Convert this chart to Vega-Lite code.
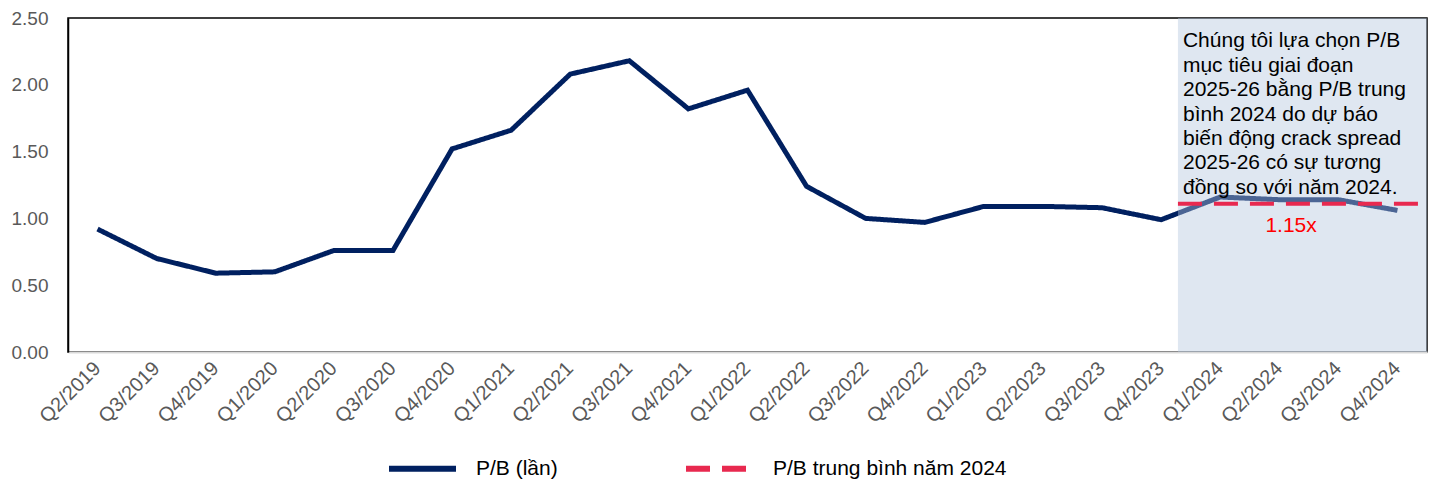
{
  "$schema": "https://vega.github.io/schema/vega-lite/v6.json",
  "autosize": {"type": "none"},
  "width": 1359,
  "height": 334,
  "padding": {"top": 18, "left": 68, "right": 5, "bottom": 129},
  "background": "#ffffff",
  "config": {
    "font": "Liberation Sans",
    "view": {"stroke": "#000000", "strokeWidth": 1.5}
  },
  "datasets": {
    "pb": [
      {"q": "Q2/2019", "v": 0.92, "s": "P/B (lần)"},
      {"q": "Q3/2019", "v": 0.70, "s": "P/B (lần)"},
      {"q": "Q4/2019", "v": 0.59, "s": "P/B (lần)"},
      {"q": "Q1/2020", "v": 0.60, "s": "P/B (lần)"},
      {"q": "Q2/2020", "v": 0.76, "s": "P/B (lần)"},
      {"q": "Q3/2020", "v": 0.76, "s": "P/B (lần)"},
      {"q": "Q4/2020", "v": 1.52, "s": "P/B (lần)"},
      {"q": "Q1/2021", "v": 1.66, "s": "P/B (lần)"},
      {"q": "Q2/2021", "v": 2.08, "s": "P/B (lần)"},
      {"q": "Q3/2021", "v": 2.18, "s": "P/B (lần)"},
      {"q": "Q4/2021", "v": 1.82, "s": "P/B (lần)"},
      {"q": "Q1/2022", "v": 1.96, "s": "P/B (lần)"},
      {"q": "Q2/2022", "v": 1.24, "s": "P/B (lần)"},
      {"q": "Q3/2022", "v": 1.00, "s": "P/B (lần)"},
      {"q": "Q4/2022", "v": 0.97, "s": "P/B (lần)"},
      {"q": "Q1/2023", "v": 1.09, "s": "P/B (lần)"},
      {"q": "Q2/2023", "v": 1.09, "s": "P/B (lần)"},
      {"q": "Q3/2023", "v": 1.08, "s": "P/B (lần)"},
      {"q": "Q4/2023", "v": 0.99, "s": "P/B (lần)"},
      {"q": "Q1/2024", "v": 1.16, "s": "P/B (lần)"},
      {"q": "Q2/2024", "v": 1.14, "s": "P/B (lần)"},
      {"q": "Q3/2024", "v": 1.14, "s": "P/B (lần)"},
      {"q": "Q4/2024", "v": 1.06, "s": "P/B (lần)"}
    ],
    "zone": [{"start": "Q4/2023", "end": "Q4/2024"}],
    "avg": [{"start": "Q4/2023", "end": "Q4/2024", "v": 1.11, "s": "P/B trung bình năm 2024"}],
    "note": [{"q": "Q4/2023", "note": "Chúng tôi lựa chọn P/B\nmục tiêu giai đoạn\n2025-26 bằng P/B trung\nbình 2024 do dự báo\nbiến động crack spread\n2025-26 có sự tương\nđồng so với năm 2024."}],
    "lab": [{"q": "Q2/2024", "label": "1.15x"}]
  },
  "layer": [
    {
      "data": {"name": "pb"},
      "mark": {"type": "line", "strokeWidth": 5, "strokeJoin": "miter"},
      "encoding": {
        "x": {
          "field": "q", "type": "nominal", "sort": null,
          "scale": {"type": "band", "paddingInner": 0, "paddingOuter": 0,
            "domain": ["Q2/2019","Q3/2019","Q4/2019","Q1/2020","Q2/2020","Q3/2020","Q4/2020","Q1/2021","Q2/2021","Q3/2021","Q4/2021","Q1/2022","Q2/2022","Q3/2022","Q4/2022","Q1/2023","Q2/2023","Q3/2023","Q4/2023","Q1/2024","Q2/2024","Q3/2024","Q4/2024"]},
          "axis": {
            "title": null, "ticks": false, "grid": false,
            "domainColor": "#D9D9D9", "domainWidth": 2,
            "labelAngle": -45, "labelAlign": "right", "labelBaseline": "middle",
            "labelFontSize": 20, "labelColor": "#595959", "labelPadding": 13
          }
        },
        "y": {
          "field": "v", "type": "quantitative",
          "scale": {"domain": [0, 2.5], "nice": false, "zero": true},
          "axis": {
            "title": null, "ticks": false, "grid": false,
            "domainColor": "#000000", "domainWidth": 1.5,
            "values": [0, 0.5, 1, 1.5, 2, 2.5], "format": ".2f",
            "labelFontSize": 19, "labelColor": "#595959", "labelPadding": 20
          }
        },
        "color": {
          "field": "s", "type": "nominal",
          "scale": {"domain": ["P/B (lần)", "P/B trung bình năm 2024"], "range": ["#002060", "#E8294F"]},
          "legend": {
            "title": null, "orient": "none", "legendX": 318, "legendY": 414,
            "direction": "horizontal", "symbolType": "stroke", "symbolSize": 4489,
            "symbolStrokeWidth": 6, "labelFontSize": 21, "labelColor": "#000000",
            "labelOffset": 17, "columnPadding": 116, "padding": 0, "labelLimit": 500
          }
        },
        "strokeDash": {
          "field": "s", "type": "nominal",
          "scale": {"domain": ["P/B (lần)", "P/B trung bình năm 2024"], "range": [[1, 0], [24, 12]]},
          "legend": null
        }
      }
    },
    {
      "data": {"name": "zone"},
      "mark": {"type": "rect", "fill": "#B2C5DD", "opacity": 0.42},
      "encoding": {
        "x": {"field": "start", "type": "nominal", "bandPosition": 0.785},
        "x2": {"field": "end", "bandPosition": 1},
        "y": {"datum": 2.5, "type": "quantitative"},
        "y2": {"datum": 0}
      }
    },
    {
      "data": {"name": "avg"},
      "mark": {"type": "rule", "strokeWidth": 4},
      "encoding": {
        "x": {"field": "start", "type": "nominal", "bandPosition": 0.785},
        "x2": {"field": "end", "bandPosition": 1},
        "y": {"field": "v", "type": "quantitative"},
        "color": {"field": "s", "type": "nominal"},
        "strokeDash": {"field": "s", "type": "nominal"}
      }
    },
    {
      "data": {"name": "note"},
      "mark": {"type": "text", "align": "left", "baseline": "alphabetic", "fontSize": 21, "lineHeight": 24.4, "lineBreak": "\n", "color": "#000000", "dx": 5},
      "encoding": {
        "x": {"field": "q", "type": "nominal", "bandPosition": 0.785},
        "y": {"datum": 2.28, "type": "quantitative"},
        "text": {"field": "note"}
      }
    },
    {
      "data": {"name": "lab"},
      "mark": {"type": "text", "align": "center", "baseline": "alphabetic", "fontSize": 21, "color": "#FF0000"},
      "encoding": {
        "x": {"field": "q", "type": "nominal", "bandPosition": 0.7},
        "y": {"datum": 0.9, "type": "quantitative"},
        "text": {"field": "label"}
      }
    }
  ]
}
